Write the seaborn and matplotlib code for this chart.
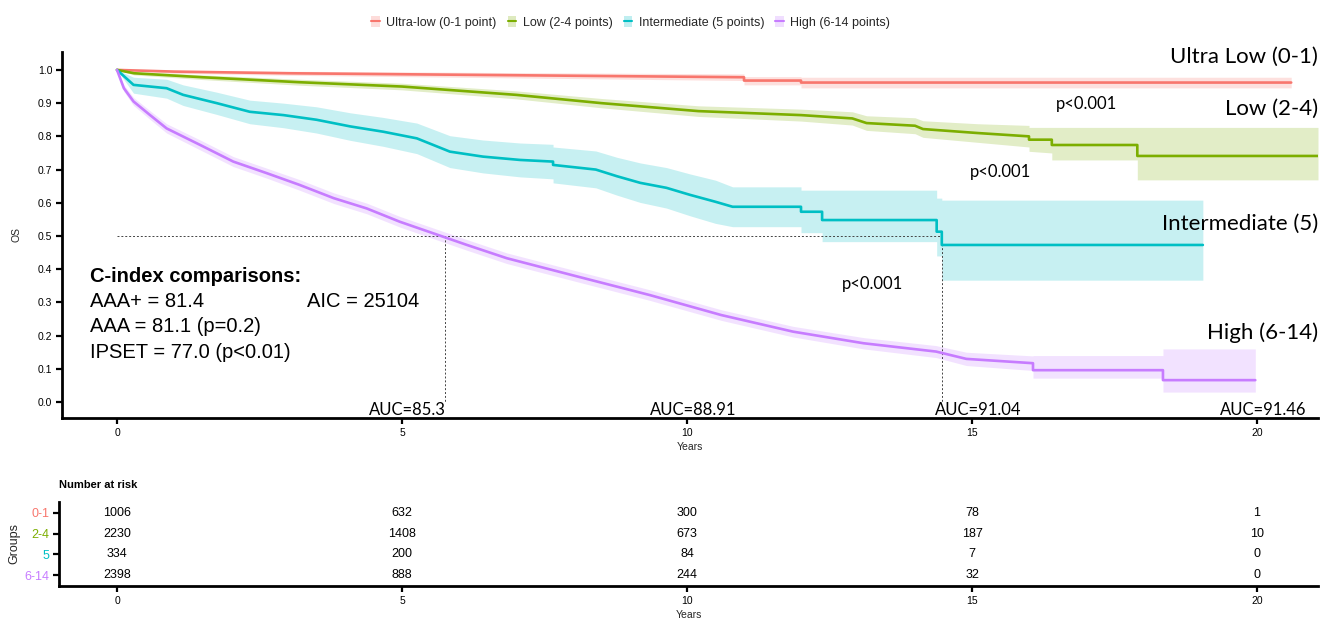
import numpy as np
import pandas as pd
import matplotlib
matplotlib.use("Agg")
import matplotlib.pyplot as plt
from matplotlib.patches import Patch
from matplotlib.lines import Line2D
import seaborn as sns

# ---------------- data ----------------
groups = ["0-1", "2-4", "5", "6-14"]
legend_labels = ["Ultra-low (0-1 point)", "Low (2-4 points)",
                 "Intermediate (5 points)", "High (6-14 points)"]
colors = ["#F8766D", "#7CAE00", "#00BFC4", "#C77CFF"]

t_ultra = [0, 1, 3, 5, 7, 9, 11.0, 11.0, 12.0, 12.0, 20.6]
s_ultra = [1.0, 0.995, 0.99, 0.987, 0.984, 0.981, 0.978, 0.968, 0.968, 0.962, 0.962]
lo_ultra = [1.0, 0.99, 0.984, 0.98, 0.976, 0.972, 0.968, 0.955, 0.955, 0.946, 0.946]
hi_ultra = [1.0, 0.999, 0.996, 0.994, 0.992, 0.99, 0.988, 0.98, 0.98, 0.978, 0.978]

t_low = [0, 0.3, 1.5, 3.2, 5.0, 7.0, 8.5, 10.2, 12.0, 12.9, 13.15, 14.0, 14.14,
         15.1, 16.0, 16.0, 16.4, 16.4, 17.9, 17.9, 21.07]
s_low = [1.0, 0.99, 0.978, 0.963, 0.95, 0.925, 0.9, 0.876, 0.864, 0.854, 0.84, 0.832,
         0.822, 0.81, 0.80, 0.79, 0.79, 0.774, 0.774, 0.741, 0.741]
lo_low = [1.0, 0.985, 0.971, 0.954, 0.94, 0.913, 0.886, 0.86, 0.846, 0.834, 0.818,
          0.808, 0.797, 0.782, 0.768, 0.755, 0.75, 0.729, 0.729, 0.669, 0.669]
hi_low = [1.0, 0.995, 0.985, 0.972, 0.96, 0.937, 0.914, 0.892, 0.882, 0.874, 0.862,
          0.856, 0.847, 0.838, 0.833, 0.827, 0.827, 0.827, 0.827, 0.827, 0.827]

t_int = [0, 0.29, 0.87, 1.16, 1.75, 2.33, 2.92, 3.5, 4.09, 4.67, 5.26, 5.84, 6.42,
         7.07, 7.65, 7.65, 8.4, 8.77, 9.18, 9.64, 10.05, 10.5, 10.8, 12.0, 12.0,
         12.37, 12.37, 14.38, 14.38, 14.47, 14.47, 19.05]
s_int = [1.0, 0.955, 0.945, 0.925, 0.9, 0.874, 0.864, 0.85, 0.83, 0.814, 0.794, 0.754,
         0.739, 0.729, 0.724, 0.714, 0.70, 0.68, 0.66, 0.645, 0.624, 0.603, 0.588,
         0.588, 0.573, 0.573, 0.548, 0.548, 0.513, 0.513, 0.473, 0.473]
lo_int = [1.0, 0.93, 0.915, 0.893, 0.866, 0.838, 0.826, 0.81, 0.788, 0.77, 0.748,
          0.706, 0.69, 0.678, 0.672, 0.66, 0.645, 0.623, 0.601, 0.584, 0.561, 0.538,
          0.528, 0.528, 0.51, 0.51, 0.483, 0.483, 0.44, 0.44, 0.367, 0.367]
hi_int = [1.0, 0.978, 0.972, 0.955, 0.933, 0.909, 0.9, 0.889, 0.871, 0.857, 0.84,
          0.802, 0.789, 0.78, 0.776, 0.768, 0.756, 0.737, 0.72, 0.706, 0.687, 0.668,
          0.648, 0.648, 0.638, 0.638, 0.638, 0.638, 0.614, 0.614, 0.608, 0.608]

t_high = [0, 0.12, 0.29, 0.58, 0.87, 1.46, 2.04, 2.63, 3.2, 3.8, 4.38, 4.96, 5.55,
          6.14, 6.84, 8.1, 9.35, 10.6, 11.86, 13.1, 14.37, 14.9, 16.07, 16.07,
          18.35, 18.35, 19.97]
s_high = [1.0, 0.945, 0.905, 0.864, 0.824, 0.774, 0.724, 0.689, 0.654, 0.614, 0.583,
          0.543, 0.508, 0.473, 0.433, 0.377, 0.322, 0.262, 0.212, 0.177, 0.152, 0.13,
          0.117, 0.096, 0.096, 0.066, 0.066]
lo_high = [1.0, 0.935, 0.893, 0.851, 0.81, 0.759, 0.709, 0.674, 0.638, 0.598, 0.567,
           0.527, 0.492, 0.457, 0.417, 0.361, 0.306, 0.246, 0.196, 0.16, 0.134, 0.11,
           0.095, 0.072, 0.072, 0.03, 0.03]
hi_high = [1.0, 0.955, 0.917, 0.877, 0.838, 0.789, 0.739, 0.704, 0.67, 0.63, 0.599,
           0.559, 0.524, 0.489, 0.449, 0.393, 0.338, 0.278, 0.228, 0.194, 0.17, 0.15,
           0.139, 0.14, 0.14, 0.16, 0.16]

median_times = [5.76, 14.47]

risk_times = [0, 5, 10, 15, 20]
risk_ultra = [1006, 632, 300, 78, 1]
risk_low = [2230, 1408, 673, 187, 10]
risk_int = [334, 200, 84, 7, 0]
risk_high = [2398, 888, 244, 32, 0]

auc_times = [5, 10, 15, 20]
auc_labels = ["AUC=85.3", "AUC=88.91", "AUC=91.04", "AUC=91.46"]

right_labels = ["Ultra Low (0-1)", "Low (2-4)", "Intermediate (5)", "High (6-14)"]
right_label_y = [1.04, 0.883, 0.536, 0.208]

p_labels = ["p<0.001", "p<0.001", "p<0.001"]
p_x = [17.0, 15.5, 13.25]
p_y = [0.897, 0.693, 0.355]

cindex_lines = ["AAA+ = 81.4", "AAA = 81.1 (p=0.2)", "IPSET = 77.0 (p<0.01)"]

# ---------------- build frames ----------------
curves = [(t_ultra, s_ultra, lo_ultra, hi_ultra),
          (t_low, s_low, lo_low, hi_low),
          (t_int, s_int, lo_int, hi_int),
          (t_high, s_high, lo_high, hi_high)]
frames = []
for g, (t, s, lo, hi) in zip(groups, curves):
    frames.append(pd.DataFrame({"time": t, "surv": s, "lo": lo, "hi": hi,
                                "group": g}))
df = pd.concat(frames, ignore_index=True)

# ---------------- figure ----------------
sns.set_theme(style="ticks")
plt.rcParams["font.family"] = ["Liberation Sans", "DejaVu Sans"]

W, H = 1322, 622
fig = plt.figure(figsize=(W / 100, H / 100), dpi=100)

def frac(x0, y0, x1, y1):
    return [x0 / W, 1 - y1 / H, (x1 - x0) / W, (y1 - y0) / H]

ax = fig.add_axes(frac(62, 52, 1318, 418))
ax_t = fig.add_axes(frac(59, 502, 1318, 586))

pal = dict(zip(groups, colors))
for g in groups:
    d = df[df.group == g]
    ax.fill_between(d["time"], d["lo"], d["hi"], color=pal[g], alpha=0.22,
                    linewidth=0, zorder=1)
sns.lineplot(data=df, x="time", y="surv", hue="group", palette=pal,
             estimator=None, sort=False, units="group", legend=False,
             linewidth=1.9, ax=ax, zorder=3)

# median lines
ax.plot([0, median_times[1]], [0.5, 0.5], color="#444444", lw=0.7,
        ls=(0, (2, 2)), zorder=2)
for mt in median_times:
    ax.plot([mt, mt], [0.5, 0.0], color="#444444", lw=0.7, ls=(0, (2, 2)), zorder=2)

ax.set_xlim(-0.965, 21.07)
ax.set_ylim(-0.048, 1.054)
ax.set_xticks(risk_times)
ax.set_yticks(np.round(np.arange(0, 1.01, 0.1), 1))
ax.set_yticklabels([f"{v:.1f}" for v in np.arange(0, 1.01, 0.1)])
ax.set_xlabel("Years", fontsize=7.5, labelpad=3)
ax.set_ylabel("OS", fontsize=7.5, labelpad=12)
sns.despine(ax=ax)
for sp in ["left", "bottom"]:
    ax.spines[sp].set_linewidth(2.0)
    ax.spines[sp].set_color("black")
ax.tick_params(axis="both", labelsize=7.5, width=1.6, length=4, color="black",
               labelcolor="black", pad=3)

# annotations
for lab, yy in zip(right_labels, right_label_y):
    ax.text(21.07, yy, lab, ha="right", va="center", fontsize=16,
            family=["Lato", "DejaVu Sans"], color="black", zorder=5)
for lab, xx, yy in zip(p_labels, p_x, p_y):
    ax.text(xx, yy, lab, ha="center", va="center", fontsize=12,
            family=["Lato", "DejaVu Sans"], color="black")
for xx, lab in zip(auc_times, auc_labels):
    ax.text(xx + 0.1, -0.048, lab, ha="center", va="bottom", fontsize=12,
            family=["Lato", "DejaVu Sans"], color="black")

ax.text(-0.47, 0.378, "C-index comparisons:", fontsize=14.5, fontweight="bold",
        ha="left", va="center", color="black")
ax.text(-0.47, 0.302, cindex_lines[0], fontsize=14.5, ha="left", va="center", color="black")
ax.text(3.33, 0.302, "AIC = 25104", fontsize=14.5, ha="left", va="center", color="black")
ax.text(-0.47, 0.226, cindex_lines[1], fontsize=14.5, ha="left", va="center", color="black")
ax.text(-0.47, 0.150, cindex_lines[2], fontsize=14.5, ha="left", va="center", color="black")

# legend
handles = [(Patch(facecolor=c, alpha=0.25, edgecolor="none"),
            Line2D([], [], color=c, lw=1.5)) for c in colors]
fig.legend(handles, legend_labels, loc="center", bbox_to_anchor=(0.477, 0.964),
           ncol=4, frameon=False, fontsize=9, handlelength=0.7, handleheight=0.9,
           handletextpad=0.5, columnspacing=0.9)

# ---------------- risk table ----------------
risk = [risk_ultra, risk_low, risk_int, risk_high]
ypos = [4, 3, 2, 1]
for vals, yy in zip(risk, ypos):
    for xx, v in zip(risk_times, vals):
        ax_t.text(xx, yy, str(v), ha="center", va="center", fontsize=9, color="black")
ax_t.set_xlim(-1.018, 21.07)
ax_t.set_ylim(0.47, 4.53)
ax_t.set_xticks(risk_times)
ax_t.set_yticks(ypos)
ax_t.set_yticklabels(groups)
for lbl, c in zip(ax_t.get_yticklabels(), colors):
    lbl.set_color(c)
    lbl.set_fontsize(9)
ax_t.set_xlabel("Years", fontsize=7.5, labelpad=3)
ax_t.set_ylabel("Groups", fontsize=9, labelpad=3)
sns.despine(ax=ax_t)
for sp in ["left", "bottom"]:
    ax_t.spines[sp].set_linewidth(2.0)
    ax_t.spines[sp].set_color("black")
ax_t.tick_params(axis="both", width=1.6, length=4, color="black", pad=3)
ax_t.tick_params(axis="x", labelsize=7.5, labelcolor="black")
ax_t.set_title("Number at risk", loc="left", fontsize=8, fontweight="bold",
               x=-0.0, pad=10, color="black")

fig.savefig("out.png", dpi=100)
